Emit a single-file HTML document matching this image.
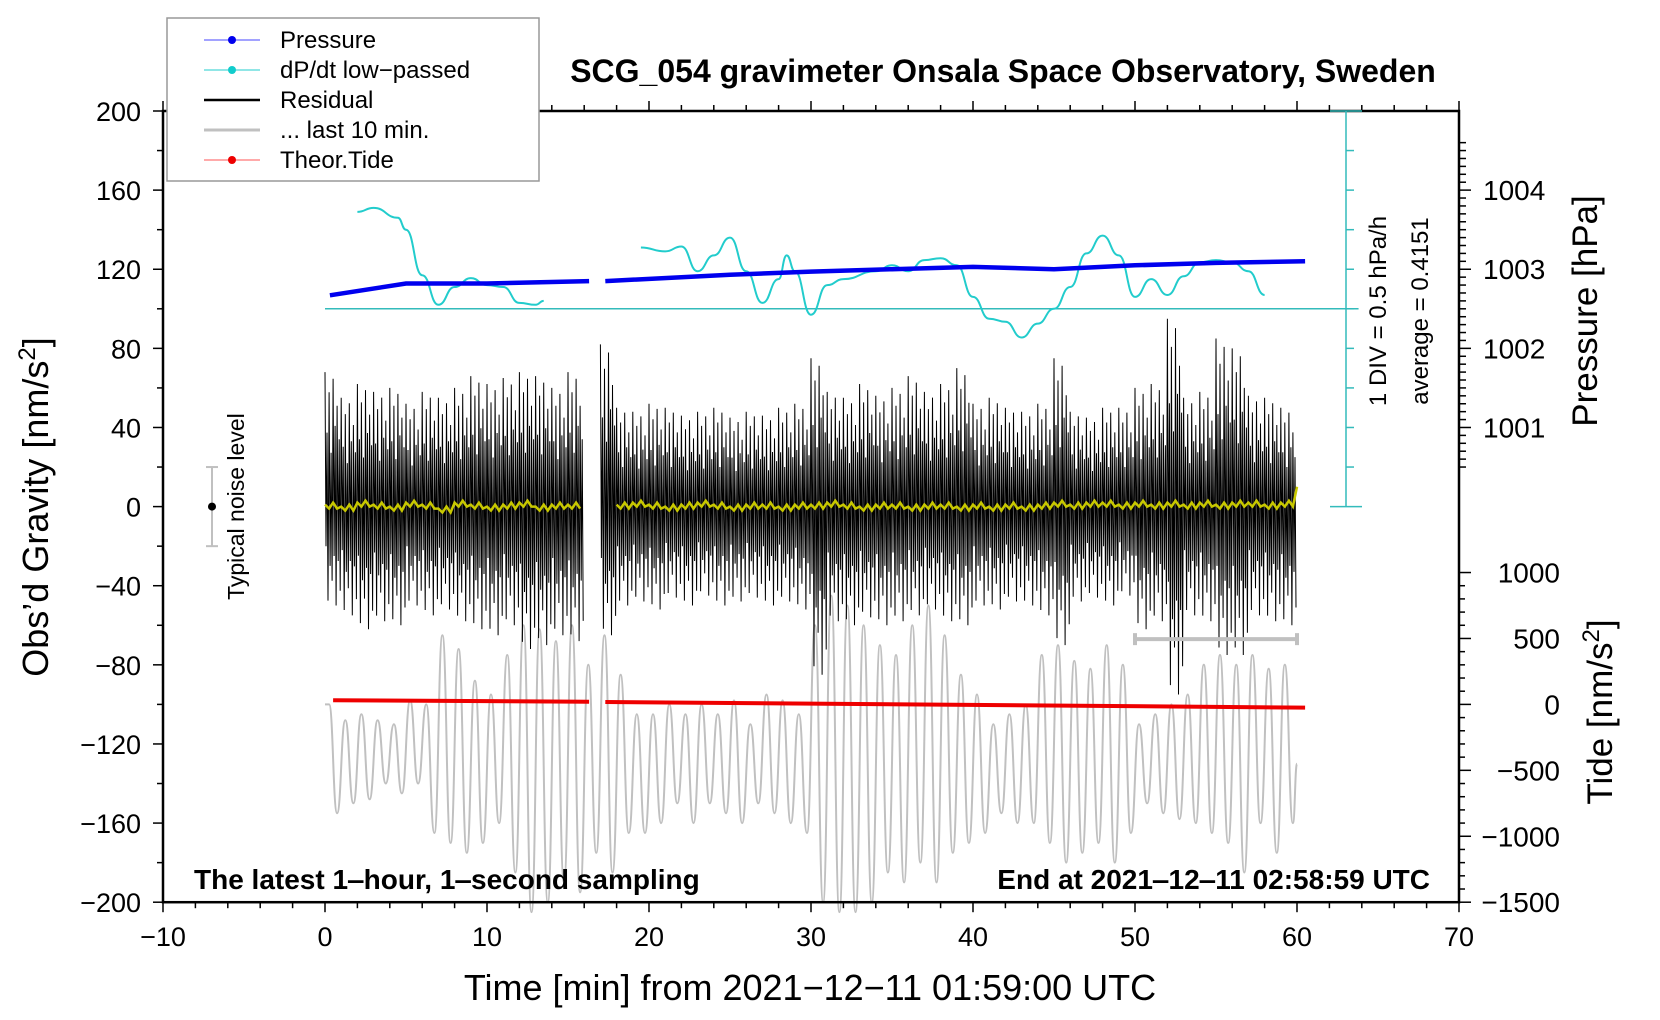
<!DOCTYPE html>
<html><head><meta charset="utf-8"><style>
html,body{margin:0;padding:0;background:#fff;}
svg{display:block;font-family:"Liberation Sans",sans-serif;}
</style></head><body>
<svg id="chart" width="1660" height="1020" viewBox="0 0 1660 1020" xmlns="http://www.w3.org/2000/svg">
<g id="marks"></g>
<g id="axes"></g>
</svg>
<script>
// ---- data ----
const minutes = [0,1,2,3,4,5,6,7,8,9,10,11,12,13,14,15,16,17,18,19,20,21,22,23,24,25,26,27,28,29,30,31,32,33,34,35,36,37,38,39,40,41,42,43,44,45,46,47,48,49,50,51,52,53,54,55,56,57,58,59];
const grayMax = [-100,-108,-105,-108,-110,-98,-100,-65,-72,-88,-95,-75,-60,-62,-68,-60,-80,-65,-85,-105,-105,-100,-105,-100,-105,-98,-110,-95,-98,-105,-60,-45,-50,-60,-70,-75,-60,-50,-65,-85,-95,-110,-105,-100,-75,-70,-78,-82,-70,-80,-110,-105,-100,-95,-80,-75,-80,-75,-82,-80];
const grayMin = [-155,-150,-148,-140,-145,-140,-165,-170,-175,-170,-160,-185,-205,-200,-190,-195,-175,-185,-165,-165,-160,-150,-160,-150,-155,-160,-150,-155,-160,-165,-200,-205,-205,-200,-185,-190,-180,-190,-175,-170,-165,-155,-160,-160,-170,-180,-175,-170,-180,-165,-150,-155,-158,-160,-165,-170,-185,-160,-175,-160];
const resMax = [68,55,62,58,60,52,58,55,60,66,62,65,68,66,60,68,55,82,50,48,52,50,46,48,50,45,48,46,50,52,75,58,55,62,56,60,66,58,62,70,52,55,50,48,52,75,48,45,50,50,60,62,95,55,58,85,80,56,55,50];
const resMin = [-50,-55,-62,-58,-60,-50,-55,-52,-58,-62,-65,-60,-72,-70,-65,-68,-55,-65,-50,-48,-52,-46,-50,-45,-50,-48,-46,-50,-48,-52,-85,-58,-60,-56,-60,-58,-55,-52,-58,-60,-50,-52,-48,-50,-55,-70,-48,-46,-50,-45,-62,-58,-95,-55,-58,-75,-75,-55,-58,-60];
const yellow = [1,0,2,1,0,2,1,-1,2,1,0,1,2,0,1,1,0,1,1,2,1,0,1,2,1,0,1,1,0,1,1,2,1,0,1,1,0,1,1,0,1,0,1,0,1,2,1,2,2,1,2,1,2,1,2,1,2,2,1,2,10];
const presT = [0.3,5,10,16.3,17.3,25,30,35,40,45,50,55,60.5];
const presHPa = [1002.67,1002.82,1002.82,1002.85,1002.85,1002.93,1002.97,1003.0,1003.03,1003.0,1003.05,1003.08,1003.1];
const presGap = 16.8;
const dpT1 = [2,3,4.5,5,6,7,8,9,10,11,12,13,13.5];
const dpV1 = [149,151,146,140,117,102,111,115.5,112,111,103,102,104];
const dpT2 = [19.5,21,22,23,24,25,26,27,28,28.5,29,30,31,32,34,35,36,37,38,39,40,41,42,43,44,45,46,47,48,49,50,51,52,53,54,55,56,57,58];
const dpV2 = [131,129,131.5,119,127,136,119,103,115,127,119,97,112,115,119,122,119,124.6,125.6,122,106,95,93.5,85.5,92.5,100,111,128,137,127,106,115,107,116.5,123.5,124.6,123.5,119,107];
const tideT = [0.5,16.3,17.3,60.5];
const tideNm = [32,20,18,-24];
const xTicks = [-10,0,10,20,30,40,50,60,70];
const yTicks = [200,160,120,80,40,0,-40,-80,-120,-160,-200];
const presTicks = [1001,1002,1003,1004];
const tideTicks = [1000,500,0,-500,-1000,-1500];

// ---- axes functions ----
const X = t => 325 + t*16.2;
const Y = g => 111 + (200-g)*1.978;
const YP = p => Y((p-1000)*40);
const YT = v => Y(-100 + v/15);
const NS = 'http://www.w3.org/2000/svg';
const marks = document.getElementById('marks');
const axes = document.getElementById('axes');
function el(tag, attrs, parent, text){
  const e = document.createElementNS(NS, tag);
  for (const k in attrs) e.setAttribute(k, attrs[k]);
  if (text !== undefined) e.textContent = text;
  parent.appendChild(e); return e;
}
function poly(pts){ return pts.map(p=>p[0].toFixed(1)+','+p[1].toFixed(1)).join(' '); }
function smooth(pts){
  let d = 'M'+pts[0][0].toFixed(1)+','+pts[0][1].toFixed(1);
  for (let i=1;i<pts.length;i++){
    const a=pts[i-1], b=pts[i], h=(b[0]-a[0])/2;
    d += ' C'+(a[0]+h).toFixed(1)+','+a[1].toFixed(1)+' '+(b[0]-h).toFixed(1)+','+b[1].toFixed(1)+' '+b[0].toFixed(1)+','+b[1].toFixed(1);
  }
  return d;
}

// gray last 10 min
const gpts = [[X(0),Y(-100)]];
minutes.forEach((m,i)=>{ gpts.push([X(m+0.25),Y(grayMax[i])]); gpts.push([X(m+0.75),Y(grayMin[i])]); });
gpts.push([X(60),Y(-130)]);
const gl = el('path',{d:smooth(gpts),fill:'none',stroke:'#c0c0c0','stroke-width':2},marks);



// residual
const pat = [1,0.55,0.85,0.4,0.95,0.6,0.75,0.5];
[[0,16],[17,60]].forEach(seg=>{
  const pts=[];
  minutes.forEach((m,i)=>{
    if (m<seg[0]||m>=seg[1]) return;
    for (let k=0;k<8;k++){
      pts.push([X(m+k/8), Y(resMax[i]*pat[k])]);
      pts.push([X(m+k/8+1/16), Y(resMin[i]*pat[(k+3)%8])]);
    }
  });
  const r = el('polyline',{points:poly(pts),fill:'none',stroke:'#000','stroke-width':1},marks);
  
  
});

// yellow
[[0,15.6],[17.2,60]].forEach(seg=>{
  const pts=[];
  yellow.forEach((v,i)=>{
    if(i>=seg[0]&&i<=seg[1]) {
      if (i>=60) { pts.push([X(i),Y(v)]); return; }
      pts.push([X(i),Y(v)]); pts.push([X(i+0.25),Y(v-2)]); pts.push([X(i+0.5),Y(v+1)]); pts.push([X(i+0.75),Y(v-2)]);
    }
  });
  const y = el('polyline',{points:poly(pts),fill:'none',stroke:'#c8c800','stroke-width':2.5},marks);
  
  
});

// cyan baseline and dP/dt
const cb = el('line',{x1:X(0),x2:X(63.8),y1:Y(100),y2:Y(100),stroke:'#33bbbb','stroke-width':1.5},marks);


[[dpT1,dpV1],[dpT2,dpV2]].forEach(d=>{
  const c = el('path',{d:smooth(d[0].map((t,i)=>[X(t),Y(d[1][i])])),fill:'none',stroke:'#22cccc','stroke-width':2},marks);
  
  
});

// pressure
[[0,presGap],[presGap,99]].forEach(s=>{
  const pts=[]; presT.forEach((t,i)=>{ if(t>=s[0]&&t<s[1]) pts.push([X(t),YP(presHPa[i])]); });
  const p = el('polyline',{points:poly(pts),fill:'none',stroke:'#0000ee','stroke-width':4.5},marks);
  
  
});
// tide
[[0,16.8],[16.8,99]].forEach(s=>{
  const pts=[]; tideT.forEach((t,i)=>{ if(t>=s[0]&&t<s[1]) pts.push([X(t),YT(tideNm[i])]); });
  const p = el('polyline',{points:poly(pts),fill:'none',stroke:'#ee0000','stroke-width':4},marks);
  
  
});

// last 10 min bar
const lb = el('g',{stroke:'#c0c0c0','stroke-width':4},marks);


el('line',{x1:X(50),x2:X(60),y1:Y(-67),y2:Y(-67)},lb);
el('line',{x1:X(50),x2:X(50),y1:Y(-67)-6,y2:Y(-67)+6},lb);
el('line',{x1:X(60),x2:X(60),y1:Y(-67)-6,y2:Y(-67)+6},lb);

// noise marker
const nm = el('g',{},marks);


el('line',{x1:212,x2:212,y1:Y(20),y2:Y(-20),stroke:'#c0c0c0','stroke-width':2},nm);
el('line',{x1:206,x2:218,y1:Y(20),y2:Y(20),stroke:'#c0c0c0','stroke-width':2},nm);
el('line',{x1:206,x2:218,y1:Y(-20),y2:Y(-20),stroke:'#c0c0c0','stroke-width':2},nm);
el('circle',{cx:212,cy:Y(0),r:4,fill:'#000'},nm);
const nt = el('text',{x:0,y:0,transform:`translate(244,${Y(0)}) rotate(-90)`,'text-anchor':'middle','font-size':23},nm,'Typical noise level');



// ---- axes ----
const frame = el('rect',{x:X(-10),y:Y(200),width:X(70)-X(-10),height:Y(-200)-Y(200),fill:'none',stroke:'#000','stroke-width':2.5},axes);


for (let t=-10;t<=70;t+=2){
  const big = t%10===0; const L = big?10:6;
  el('line',{x1:X(t),x2:X(t),y1:Y(-200),y2:Y(-200)+L,stroke:'#000','stroke-width':1.5},axes);
  el('line',{x1:X(t),x2:X(t),y1:Y(200),y2:Y(200)-L,stroke:'#000','stroke-width':1.5},axes);
}
xTicks.forEach(t=>{
  const tx = el('text',{x:X(t),y:Y(-200)+44,'text-anchor':'middle','font-size':27},axes,String(t).replace('-','\u2212'));
  
  
});
for (let g=-200; g<=200; g+=20){
  el('line',{x1:X(-10),x2:X(-10)-(g%40===0?10:6),y1:Y(g),y2:Y(g),stroke:'#000','stroke-width':1.5},axes);
}
yTicks.forEach(g=>{
  const ty = el('text',{x:141,y:Y(g)+10,'text-anchor':'end','font-size':27},axes,String(g).replace('-','\u2212'));
  
  
});
for (let p=1000.5; p<=1004.7; p+=0.1){
  const maj = Math.abs(p-Math.round(p))<0.01;
  el('line',{x1:X(70),x2:X(70)+(maj?12:7),y1:YP(p),y2:YP(p),stroke:'#000','stroke-width':1.5},axes);
}
presTicks.forEach(p=>{
  const t = el('text',{x:1483,y:YP(p)+10,'font-size':28},axes,String(p));
  
  
});
for (let v=-1500; v<=1000; v+=100){
  el('line',{x1:X(70),x2:X(70)+(v%500===0?12:6),y1:YT(v),y2:YT(v),stroke:'#000','stroke-width':1.5},axes);
}
tideTicks.forEach(v=>{
  const t = el('text',{x:1560,y:YT(v)+10,'text-anchor':'end','font-size':28},axes,String(v).replace('-','\u2212'));
  
  
});
const ca = el('g',{stroke:'#33bbbb','stroke-width':1.5},axes);


el('line',{x1:1346,x2:1346,y1:Y(200),y2:Y(0)},ca);
el('line',{x1:1330,x2:1362,y1:Y(200),y2:Y(200)},ca);
el('line',{x1:1330,x2:1362,y1:Y(0),y2:Y(0)},ca);
for (let g=20; g<200; g+=20) el('line',{x1:1346,x2:1354,y1:Y(g),y2:Y(g)},ca);
</script>
<svg style="position:absolute;left:0;top:0" width="1660" height="1020" viewBox="0 0 1660 1020" xmlns="http://www.w3.org/2000/svg" font-family="Liberation Sans, sans-serif">
<text x="1003" y="82" text-anchor="middle" font-size="32" font-weight="bold">SCG_054 gravimeter Onsala Space Observatory, Sweden</text>
<text transform="translate(1386,311) rotate(-90)" text-anchor="middle" font-size="24">1 DIV = 0.5 hPa/h</text>
<text transform="translate(1428,311) rotate(-90)" text-anchor="middle" font-size="24">average = 0.4151</text>
<text x="194" y="889" font-size="28" font-weight="bold">The latest 1‒hour, 1‒second sampling</text>
<text x="1430" y="889" text-anchor="end" font-size="28" font-weight="bold">End at 2021‒12‒11 02:58:59 UTC</text>
<text x="810" y="1000" text-anchor="middle" font-size="36">Time [min] from 2021−12−11 01:59:00 UTC</text>
<text transform="translate(48,507) rotate(-90)" text-anchor="middle" font-size="36">Obs’d Gravity [nm/s<tspan font-size="24" dy="-13">2</tspan><tspan dy="13">]</tspan></text>
<text transform="translate(1597,311) rotate(-90)" text-anchor="middle" font-size="35">Pressure [hPa]</text>
<text transform="translate(1612,712) rotate(-90)" text-anchor="middle" font-size="35">Tide [nm/s<tspan font-size="24" dy="-13">2</tspan><tspan dy="13">]</tspan></text>
<g>
<rect x="167" y="18" width="372" height="163" fill="#fff" stroke="#999" stroke-width="1.5"/>
<g><line x1="204" x2="260" y1="40" y2="40" stroke="#4444ff" stroke-width="1"/><circle cx="232" cy="40" r="4" fill="#0000ee"/><text x="280" y="48" font-size="24">Pressure</text></g>
<g><line x1="204" x2="260" y1="70" y2="70" stroke="#22cccc" stroke-width="1"/><circle cx="232" cy="70" r="4" fill="#11cccc"/><text x="280" y="78" font-size="24">dP/dt low−passed</text></g>
<g><line x1="204" x2="260" y1="100" y2="100" stroke="#000" stroke-width="2.5"/><text x="280" y="108" font-size="24">Residual</text></g>
<g><line x1="204" x2="260" y1="130" y2="130" stroke="#c0c0c0" stroke-width="3"/><text x="280" y="138" font-size="24">... last 10 min.</text></g>
<g><line x1="204" x2="260" y1="160" y2="160" stroke="#ff5555" stroke-width="1"/><circle cx="232" cy="160" r="4" fill="#ee0000"/><text x="280" y="168" font-size="24">Theor.Tide</text></g>
</g>
</svg>
</body></html>
